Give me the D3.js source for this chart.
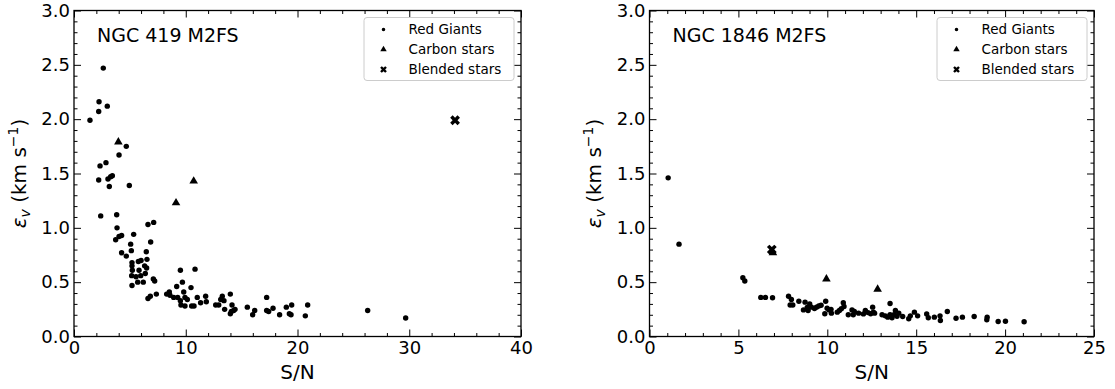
<!DOCTYPE html>
<html>
<head>
<meta charset="utf-8">
<script src="https://cdn.jsdelivr.net/npm/d3@7"></script>
<style>
  body { margin: 0; background: #fff; }
  svg { display: block; }
  text { font-family: "DejaVu Sans", sans-serif; fill: #000; }
</style>
</head>
<body>
<svg id="fig" width="1115" height="389"></svg>
<script>
// ---- NGC 419: [S/N, velocity error (km/s)] ----
const ngc419Giants = [
  [2.62,2.47],[2.24,2.16],[2.98,2.12],[2.21,2.07],[1.43,1.99],[4.68,1.75],[4.03,1.67],
  [2.33,1.57],[2.86,1.60],[2.21,1.44],[3.04,1.45],[3.28,1.47],[3.43,1.48],[3.16,1.38],[4.95,1.39],
  [2.39,1.11],[3.82,1.12],[3.85,1.00],[3.73,0.89],[4.03,0.92],[4.26,0.93],[5.34,0.94],[6.62,1.03],
  [7.13,1.05],[6.86,0.87],[4.26,0.77],[4.68,0.74],[5.13,0.79],[5.07,0.85],[6.47,0.78],[6.53,0.71],
  [5.19,0.68],[5.76,0.69],[6.00,0.70],[5.19,0.65],[6.32,0.65],[5.22,0.61],[5.82,0.61],[6.50,0.63],
  [5.16,0.56],[5.55,0.55],[5.97,0.56],[6.38,0.58],[5.19,0.47],[5.70,0.50],[6.20,0.50],[7.10,0.53],
  [7.22,0.51],[6.62,0.35],[6.83,0.37],[7.37,0.39],[9.52,0.61],[10.83,0.62],[9.70,0.50],[9.19,0.46],
  [10.47,0.45],[9.82,0.41],[8.53,0.41],[8.29,0.39],[8.59,0.38],[8.92,0.36],[9.28,0.36],[9.93,0.36],
  [10.14,0.34],[9.52,0.33],[9.57,0.29],[9.93,0.28],[10.53,0.28],[10.74,0.28],[11.03,0.36],[11.33,0.31],
  [11.78,0.37],[11.84,0.32],[12.68,0.29],[12.95,0.29],[13.13,0.34],[13.27,0.37],[13.42,0.33],[13.99,0.39],
  [14.14,0.29],[13.48,0.25],[13.99,0.21],[14.08,0.23],[14.41,0.25],[14.29,0.24],[15.51,0.27],[15.99,0.20],
  [16.17,0.24],[17.24,0.36],[17.24,0.24],[17.42,0.23],[17.81,0.26],[18.40,0.20],[19.00,0.27],[19.27,0.21],
  [19.42,0.20],[19.48,0.29],[20.70,0.19],[20.91,0.29],[26.28,0.24],[29.68,0.17]
];
const ngc419Carbon = [[3.97,1.79],[10.71,1.43],[9.13,1.23]];
const ngc419Blended = [[34.1,1.99]];

// ---- NGC 1846: [S/N, velocity error (km/s)] ----
const ngc1846Giants = [
  [1.05,1.46],[1.66,0.85],[5.25,0.54],[5.36,0.51],[6.26,0.36],[6.52,0.36],[6.92,0.356],[7.82,0.37],
  [7.98,0.34],[7.91,0.29],[8.06,0.29],[8.40,0.325],[8.66,0.245],[8.75,0.316],[8.87,0.267],[8.92,0.239],
  [9.01,0.30],[9.11,0.27],[9.28,0.258],[9.39,0.27],[9.52,0.28],[9.65,0.288],[9.91,0.325],[9.86,0.209],
  [9.99,0.26],[10.10,0.245],[10.21,0.25],[10.23,0.215],[10.56,0.224],[10.68,0.24],[10.79,0.255],[10.90,0.31],
  [10.94,0.276],[11.18,0.20],[11.39,0.245],[11.46,0.20],[11.52,0.23],[11.76,0.215],[12.03,0.208],[12.14,0.24],
  [12.29,0.22],[12.44,0.21],[12.55,0.27],[12.59,0.224],[12.66,0.215],[13.08,0.20],[13.26,0.19],[13.40,0.178],
  [13.53,0.304],[13.53,0.20],[13.64,0.172],[13.75,0.20],[13.83,0.24],[13.92,0.187],[14.02,0.215],[14.24,0.184],
  [14.58,0.163],[14.67,0.19],[14.90,0.224],[15.08,0.19],[15.59,0.208],[15.68,0.172],[16.02,0.178],[16.34,0.19],
  [16.36,0.147],[16.75,0.23],[17.24,0.168],[17.60,0.178],[18.26,0.184],[18.99,0.178],[18.97,0.153],[19.61,0.138],
  [20.02,0.14],[21.07,0.135]
];
const ngc1846Carbon = [[6.94,0.77],[9.95,0.53],[12.83,0.435]];
const ngc1846Blended = [[6.88,0.80]];

// ---- axis ticks ----
const xTicks419 = [0, 10, 20, 30, 40];
const xMinor419 = d3.range(0, 40.001, 2);
const xTicks1846 = [0, 5, 10, 15, 20, 25];
const xMinor1846 = d3.range(0, 25.001, 1);
const yTicks = [0, 0.5, 1.0, 1.5, 2.0, 2.5, 3.0];
const yMinor = d3.range(0, 3.0001, 0.1).map(v => +v.toFixed(1));

const legendLabels = ["Red Giants", "Carbon stars", "Blended stars"];

const svg = d3.select("#fig");
const plotTop = 10.5, plotBottom = 336.5;

const panels = [
  { title: "NGC 419 M2FS", x0: 74, x1: 521, xMax: 40, major: xTicks419, minor: xMinor419,
    giants: ngc419Giants, carbon: ngc419Carbon, blended: ngc419Blended, ylabX: 26 },
  { title: "NGC 1846 M2FS", x0: 649.5, x1: 1094, xMax: 25, major: xTicks1846, minor: xMinor1846,
    giants: ngc1846Giants, carbon: ngc1846Carbon, blended: ngc1846Blended, ylabX: 601 }
];

const dotPath = d3.symbol(d3.symbolCircle, 23)();
const triPath = d3.symbol(d3.symbolTriangle, 32)();
const xPath = d3.symbol(d3.symbolCross, 60)();
const dotPathSm = d3.symbol(d3.symbolCircle, 10)();
const triPathSm = d3.symbol(d3.symbolTriangle, 18)();
const xPathSm = d3.symbol(d3.symbolCross, 28)();

const tickFont = 18;

panels.forEach(p => {
  const x = d3.scaleLinear().domain([0, p.xMax]).range([p.x0, p.x1]);
  const y = d3.scaleLinear().domain([0, 3]).range([plotBottom, plotTop]);
  const g = svg.append("g");

  // ticks (pointing inward on all four sides)
  const addAxis = (gen, tr, vals, size, labels, fmt, pad) => {
    const a = g.append("g").attr("transform", tr)
      .call(gen.tickValues(vals).tickSize(-size).tickPadding(pad)
        .tickFormat(labels ? fmt : () => ""));
    a.select(".domain").remove();
    a.selectAll("line").attr("stroke", "#000").attr("stroke-width", 1);
    a.selectAll("text").style("font-size", tickFont + "px").attr("font-family", "DejaVu Sans");
    return a;
  };
  const minorX = p.minor.filter(v => !p.major.includes(v));
  const minorY = yMinor.filter(v => !yTicks.some(t => Math.abs(t - v) < 1e-6));

  addAxis(d3.axisBottom(x), `translate(0,${plotBottom})`, minorX, 3.5, false, null, 0);
  addAxis(d3.axisTop(x), `translate(0,${plotTop})`, minorX, 3.5, false, null, 0);
  addAxis(d3.axisLeft(y), `translate(${p.x0},0)`, minorY, 3.5, false, null, 0);
  addAxis(d3.axisRight(y), `translate(${p.x1},0)`, minorY, 3.5, false, null, 0);
  addAxis(d3.axisBottom(x), `translate(0,${plotBottom})`, p.major, 7, true, d3.format("d"), 5);
  addAxis(d3.axisTop(x), `translate(0,${plotTop})`, p.major, 7, false, null, 0);
  addAxis(d3.axisLeft(y), `translate(${p.x0},0)`, yTicks, 7, true, d3.format(".1f"), 4);
  addAxis(d3.axisRight(y), `translate(${p.x1},0)`, yTicks, 7, false, null, 0);

  // frame
  g.append("rect")
    .attr("x", p.x0).attr("y", plotTop)
    .attr("width", p.x1 - p.x0).attr("height", plotBottom - plotTop)
    .attr("fill", "none").attr("stroke", "#000").attr("stroke-width", 1.3);

  // data
  g.selectAll(".giant").data(p.giants).join("path")
    .attr("d", dotPath).attr("fill", "#000")
    .attr("transform", d => `translate(${x(d[0])},${y(d[1])})`);
  g.selectAll(".carbon").data(p.carbon).join("path")
    .attr("d", triPath).attr("fill", "#000")
    .attr("transform", d => `translate(${x(d[0])},${y(d[1])})`);
  g.selectAll(".blend").data(p.blended).join("path")
    .attr("d", xPath).attr("fill", "#000")
    .attr("transform", d => `translate(${x(d[0])},${y(d[1])}) rotate(45)`);

  // panel title
  g.append("text").attr("x", p.x0 + 23).attr("y", 42)
    .style("font-size", "19px").text(p.title);

  // axis labels
  g.append("text").attr("x", (p.x0 + p.x1) / 2).attr("y", 379)
    .attr("text-anchor", "middle").style("font-size", "20px").text("S/N");

  const yl = g.append("text")
    .attr("transform", `translate(${p.ylabX},${(plotTop + plotBottom) / 2}) rotate(-90)`)
    .attr("text-anchor", "middle").style("font-size", "20px");
  yl.append("tspan").attr("font-style", "italic").text("ε");
  yl.append("tspan").attr("font-style", "italic").attr("dy", 4).style("font-size", "14px").text("v");
  yl.append("tspan").attr("dy", -4).text(" (km s");
  yl.append("tspan").attr("dy", -8).style("font-size", "14px").text("−1");
  yl.append("tspan").attr("dy", 8).text(")");

  // legend
  const lw = 150, lh = 63;
  const lx = p.x1 - 7 - lw, ly = 17.5;
  const lg = g.append("g");
  lg.append("rect").attr("x", lx).attr("y", ly).attr("width", lw).attr("height", lh)
    .attr("rx", 3).attr("fill", "#fff").attr("fill-opacity", 0.8)
    .attr("stroke", "#cccccc").attr("stroke-width", 1);
  const marks = [dotPathSm, triPathSm, xPathSm];
  legendLabels.forEach((lab, i) => {
    const cy = ly + 12 + i * 20;
    lg.append("path").attr("d", marks[i]).attr("fill", "#000")
      .attr("transform", `translate(${lx + 19.5},${cy})` + (i === 2 ? " rotate(45)" : ""));
    lg.append("text").attr("x", lx + 44.5).attr("y", cy).attr("dy", "0.35em")
      .style("font-size", "13.5px").text(lab);
  });
});
</script>
</body>
</html>
